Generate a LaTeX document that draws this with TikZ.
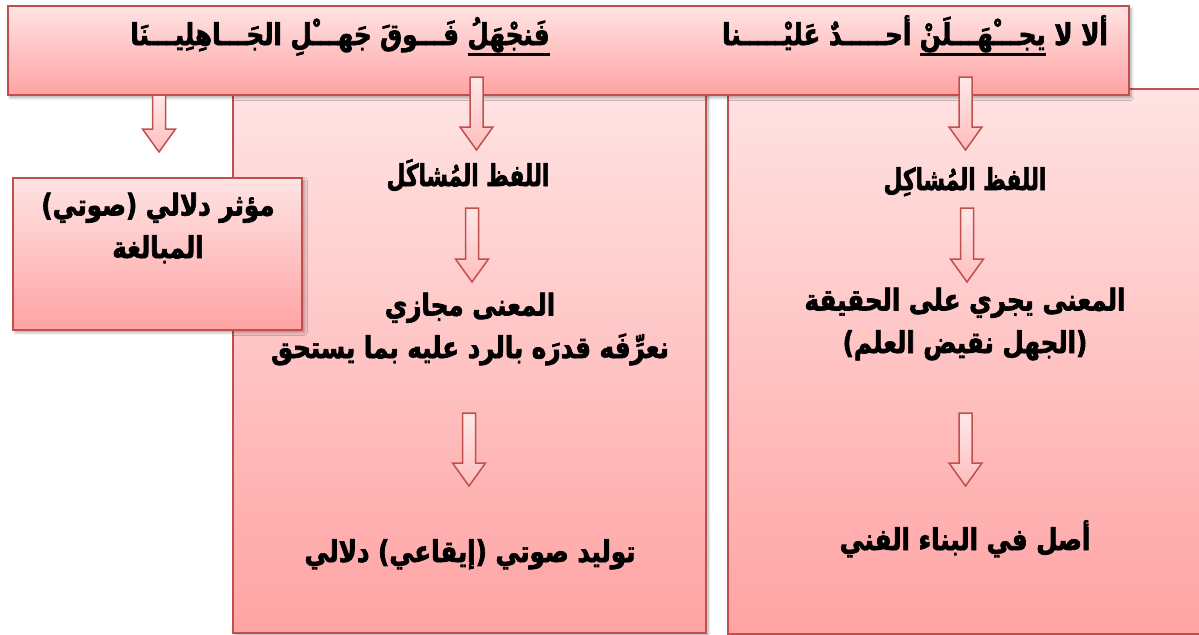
\documentclass[tikz,border=0pt]{standalone}
\usepackage{fontspec}
\usepackage{graphicx}
\newfontfamily\arabicfont[Script=Arabic, FakeStretch=0.82, BoldFeatures={FakeBold=2.2}]{DejaVu Sans}
\TeXXeTstate=1
\usetikzlibrary{calc,shadows.blur}
\definecolor{bord}{HTML}{C0504D}
\definecolor{ftop}{HTML}{FFE3E3}
\definecolor{fbot}{HTML}{FFA3A3}
\definecolor{atop}{HTML}{FFE8E8}
\definecolor{abot}{HTML}{FFBDBD}
\newcommand\R[1]{\beginR #1\endR}
\newcommand\Rn[1]{\scalebox{0.88}[1]{\beginR #1\endR}}
\newcommand\ulR[1]{\hbox{\vtop{\hbox{\beginR #1\endR}\kern0.5pt\hrule height 1.4pt}}}
\newcommand\blockarr[2]{\path[barr] ($(#1)+(-6.5,0)$) -- ($(#1)+(6.5,0)$) -- ($(#2)+(6.5,-23)$) -- ($(#2)+(16.5,-23)$) -- (#2) -- ($(#2)+(-16.5,-23)$) -- ($(#2)+(-6.5,-23)$) -- cycle;}
\tikzset{
  box/.style={draw=bord, line width=1.2pt, top color=ftop, bottom color=fbot, rectangle, inner sep=0pt,
    blur shadow={shadow xshift=1.5pt, shadow yshift=-1.5pt, shadow blur steps=6, shadow opacity=35}},
  lbl/.style={font=\arabicfont\bfseries\fontsize{18}{25.5}\selectfont, align=center, inner sep=0pt, text=black},
  barr/.style={draw=bord, line width=0.9pt, top color=atop, bottom color=abot, line join=miter},
}
\begin{document}
\begin{tikzpicture}[x=0.6pt,y=-0.6pt]
\useasboundingbox (0,0) rectangle (1199,635);
\clip (0,0) rectangle (1199,635);
% boxes
\node[box, minimum width=482*0.6pt, minimum height=545*0.6pt] (rbox) at (969,361) {};
\node[box, minimum width=473*0.6pt, minimum height=540*0.6pt] (mbox) at (469,363) {};
\node[box, minimum width=1121*0.6pt, minimum height=89*0.6pt] (banner) at (568,50.5) {};
\node[box, minimum width=289*0.6pt, minimum height=152*0.6pt] (lbox) at (157.5,254) {};
% banner texts
\node[lbl, anchor=base] (bl) at (340,45) {\R{\ulR{فَنجْهَلُ} فَـــوقَ جَهـــْلِ الجَـــاهِلِيـــنَا}};
\node[lbl, anchor=base] (br) at (915,45) {\R{ألا لا \ulR{يجـــْهَـــلَنْ} أحـــــدٌ عَليْـــــنا}};
% middle column
\node[lbl, anchor=base] (m1) at (468,186) {\Rn{اللفظ المُشاكَل}};
\node[lbl, anchor=base] (m2) at (470,358) {\R{المعنى مجازي}\\\R{نعرِّفَه قدرَه بالرد عليه بما يستحق}};
\node[lbl, anchor=base] (m3) at (470,562) {\R{توليد صوتي (إيقاعي) دلالي}};
% right column
\node[lbl, anchor=base] (r1) at (965,190) {\Rn{اللفظ المُشاكِل}};
\node[lbl, anchor=base] (r2) at (965,353) {\R{المعنى يجري على الحقيقة}\\\R{(الجهل نقيض العلم)}};
\node[lbl, anchor=base] (r3) at (965,550) {\R{أصل في البناء الفني}};
% left box text
\node[lbl, anchor=base] (l1) at (158,258) {\R{مؤثر دلالي (صوتي)}\\\R{المبالغة}};
% arrow end points
\coordinate (a0s) at (159,95);   \coordinate (a0t) at (159,152);
\coordinate (a1s) at (476.5,77); \coordinate (a1t) at (476.5,150);
\coordinate (a2s) at (965.5,77); \coordinate (a2t) at (965.5,150);
\coordinate (a3s) at (472,208);  \coordinate (a3t) at (472,282);
\coordinate (a4s) at (967,208);  \coordinate (a4t) at (967,282);
\coordinate (a5s) at (469,413);  \coordinate (a5t) at (469,486);
\coordinate (a6s) at (965.5,413);\coordinate (a6t) at (965.5,486);
\blockarr{a0s}{a0t}
\blockarr{a1s}{a1t}
\blockarr{a2s}{a2t}
\blockarr{a3s}{a3t}
\blockarr{a4s}{a4t}
\blockarr{a5s}{a5t}
\blockarr{a6s}{a6t}
\end{tikzpicture}
\end{document}
